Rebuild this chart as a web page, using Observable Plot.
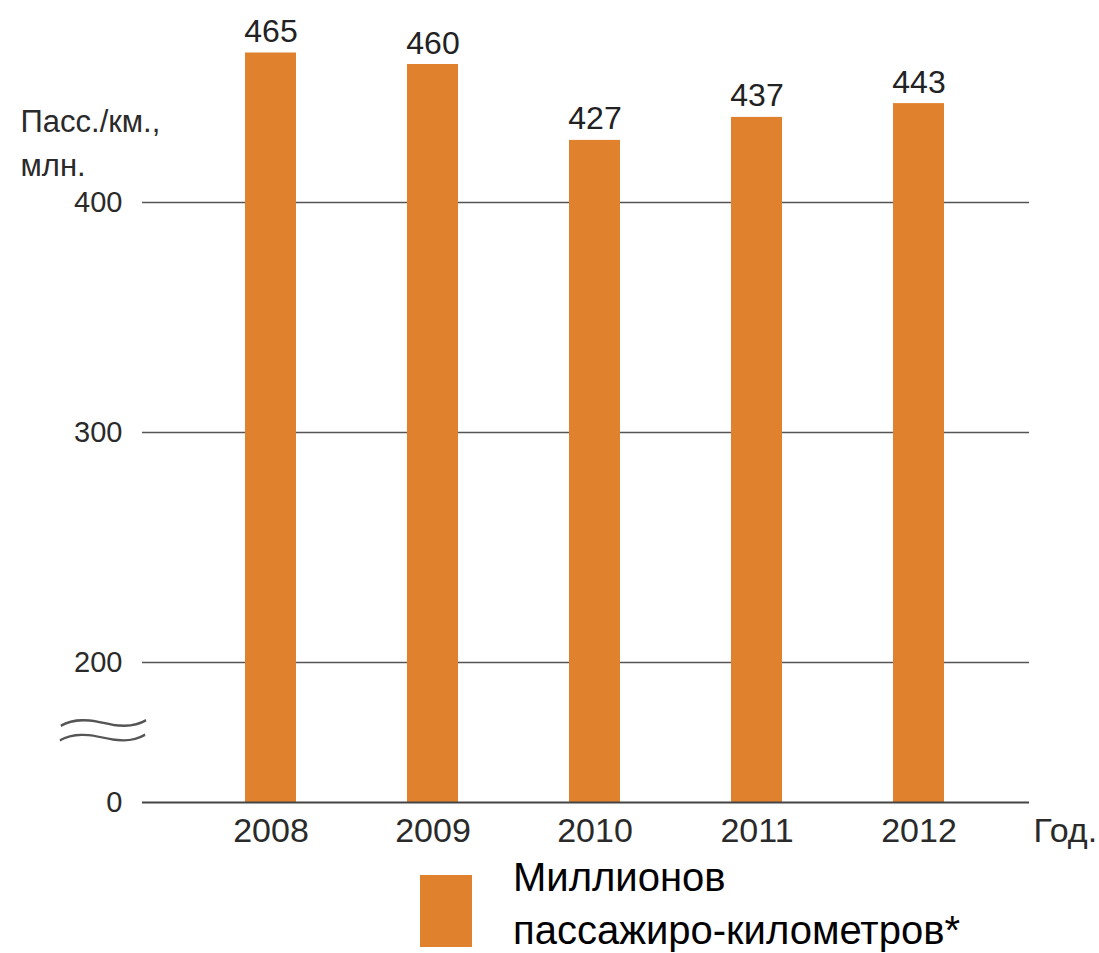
<!DOCTYPE html>
<html>
<head>
<meta charset="utf-8">
<script src="https://cdn.jsdelivr.net/npm/d3@7"></script>
<script src="https://cdn.jsdelivr.net/npm/@observablehq/plot@0.6"></script>
<style>
  html, body { margin: 0; padding: 0; background: #fff; }
  #wrap { position: relative; width: 1099px; height: 953px; font-family: "Liberation Sans", Arial, sans-serif; }
  #legend-swatch { position: absolute; left: 420px; top: 875px; width: 52px; height: 72px; background: #e0822d; }
  #legend-text { position: absolute; left: 513px; top: 851px; font-size: 40px; line-height: 53px; color: #000; white-space: nowrap; }
</style>
</head>
<body>
<div id="wrap">
  <div id="chart"></div>
  <div id="legend-swatch"></div>
  <div id="legend-text">Миллионов<br>пассажиро-километров*</div>
</div>
<script>
const years = ["2008", "2009", "2010", "2011", "2012"];
const values = [465, 460, 427, 437, 443];
const yTicks = [0, 200, 300, 400];
const yTitle = "Пасс./км.,\nмлн.";
const xTitle = "Год.";
const breakMark = "≈";
const barColor = "#e0822d";

const data = years.map((year, i) => ({year, value: values[i]}));

const chart = Plot.plot({
  width: 1099,
  height: 860,
  marginLeft: 142,
  marginRight: 70,
  marginTop: 0,
  marginBottom: 58,
  style: {fontFamily: "'Liberation Sans', Arial, sans-serif", background: "#fff", color: "#2a2a2a"},
  x: {domain: years, paddingInner: 0.685, paddingOuter: 0.58, align: 0.55, label: null},
  y: {type: "linear", domain: [0, 200, 470], range: [802, 662, 41], label: null},
  marks: [
    Plot.ruleY(yTicks.filter(d => d > 0), {stroke: "#555", strokeWidth: 1.6}),
    Plot.barY(data, {x: "year", y: "value", fill: barColor}),
    Plot.ruleY([0], {stroke: "#444", strokeWidth: 1.8}),
    Plot.axisY(yTicks, {tickSize: 0, tickPadding: 20, fontSize: 29, fill: "#2a2a2a", label: null}),
    Plot.axisX({tickSize: 0, tickPadding: 15, fontSize: 34, fill: "#2a2a2a", label: null}),
    Plot.text(data, {x: "year", y: "value", text: d => String(d.value), lineAnchor: "bottom", dy: -11, fontSize: 32, fill: "#222"}),
    Plot.text([yTitle], {frameAnchor: "top-left", textAnchor: "start", lineAnchor: "top", dx: -122, dy: 100, fontSize: 31, lineHeight: 1.43, fill: "#2a2a2a"}),
    Plot.text([xTitle], {frameAnchor: "bottom-right", textAnchor: "start", lineAnchor: "top", dx: 4, dy: 15, fontSize: 34, fill: "#2a2a2a"}),
    Plot.text([breakMark], {frameAnchor: "bottom-left", textAnchor: "middle", lineAnchor: "middle", dx: -39, dy: -71, fontSize: 70, fontWeight: 100, fontFamily: "Roboto", fill: "#555"})
  ]
});

d3.select(chart).selectAll("text").filter(function() { return this.textContent === breakMark; })
  .each(function() {
    const el = this;
    let t = el.getAttribute("transform") || "";
    const x = +(el.getAttribute("x") || 0);
    const y = +(el.getAttribute("y") || 0);
    if (x || y) {
      t = t + ` translate(${x},${y})`;
      el.setAttribute("x", 0);
      el.setAttribute("y", 0);
    }
    el.setAttribute("transform", t + " scale(2.7,1.1)");
  });

document.getElementById("chart").appendChild(chart);
</script>
</body>
</html>
